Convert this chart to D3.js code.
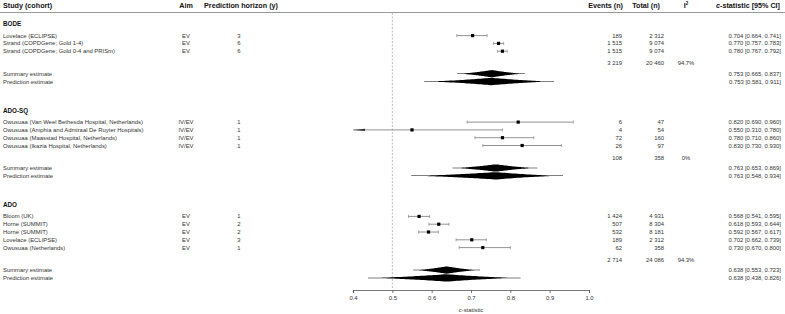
<!DOCTYPE html>
<html>
<head>
<meta charset="utf-8">
<script src="https://cdn.jsdelivr.net/npm/d3@7"></script>
<style>
  body { margin: 0; background: #fff; }
  svg { display: block; font-family: "Liberation Sans", Arial, sans-serif; }
</style>
</head>
<body>
<div id="chart"></div>
<script>
// Cohort groups
var groupNames = ["BODE", "ADO-SQ", "ADO"];
var groupEvents = [3219, 108, 2714];
var groupTotals = [20460, 358, 24086];
var groupI2 = ["94.7%", "0%", "94.3%"];
var summaryEst = [0.753, 0.763, 0.638];
var summaryLo = [0.665, 0.653, 0.553];
var summaryHi = [0.837, 0.869, 0.723];
var predLo = [0.581, 0.548, 0.438];
var predHi = [0.911, 0.934, 0.826];

// Individual studies
var studyGroup = [0, 0, 0, 1, 1, 1, 1, 2, 2, 2, 2, 2];
var studyNames = [
    "Lovelace (ECLIPSE)",
    "Strand (COPDGene; Gold 1-4)",
    "Strand (COPDGene; Gold 0-4 and PRISm)",
    "Owusuaa (Van Weel Bethesda Hospital, Netherlands)",
    "Owusuaa (Amphia and Admiraal De Ruyter Hospitals)",
    "Owusuaa (Maasstad Hospital, Netherlands)",
    "Owusuaa (Ikazia Hospital, Netherlands)",
    "Bloom (UK)",
    "Horne (SUMMIT)",
    "Horne (SUMMIT)",
    "Lovelace (ECLIPSE)",
    "Owusuaa (Netherlands)"
];
var studyAim = ["EV", "EV", "EV", "IV/EV", "IV/EV", "IV/EV", "IV/EV", "EV", "EV", "EV", "EV", "EV"];
var studyHorizon = [3, 6, 6, 1, 1, 1, 1, 1, 2, 2, 3, 1];
var studyEvents = [189, 1515, 1515, 6, 4, 72, 26, 1424, 507, 532, 189, 62];
var studyTotal = [2312, 9074, 9074, 47, 54, 160, 97, 4931, 8304, 8181, 2312, 358];
var studyEst = [0.704, 0.770, 0.780, 0.820, 0.550, 0.780, 0.830, 0.568, 0.618, 0.592, 0.702, 0.730];
var studyLo = [0.664, 0.757, 0.767, 0.690, 0.310, 0.710, 0.730, 0.541, 0.593, 0.567, 0.662, 0.670];
var studyHi = [0.741, 0.783, 0.792, 0.960, 0.780, 0.860, 0.930, 0.595, 0.644, 0.617, 0.739, 0.800];

var axisTicks = [0.4, 0.5, 0.6, 0.7, 0.8, 0.9, 1.0];
var refLine = 0.5;

var width = 785, height = 314;
var fs = 5.9, hfs = 7.2;
var textColor = "#333";

var svg = d3.select("#chart").append("svg")
    .attr("width", width)
    .attr("height", height);

svg.append("rect").attr("width", width).attr("height", height).attr("fill", "#fff");

var x = d3.scaleLinear().domain([axisTicks[0], axisTicks[axisTicks.length - 1]]).range([353, 589]);

var loc = d3.formatLocale({decimal: ".", thousands: " ", grouping: [3], currency: ["", ""]});
var fmtN = loc.format(",");
var fmt3 = d3.format(".3f");

// column positions
var colStudy = 3, colAim = 186, colHor = 239, colEvents = 622, colTotal = 664, colI2 = 686, colCI = 781;

// header
var header = svg.append("g").attr("font-weight", "bold").attr("font-size", hfs).attr("fill", "#111");
function headText(xp, anchor, txt) {
    return header.append("text").attr("x", xp).attr("y", 5).attr("dy", "0.35em")
        .attr("text-anchor", anchor).text(txt);
}
headText(colStudy, "start", "Study (cohort)");
headText(colAim, "middle", "Aim");
headText(241, "middle", "Prediction horizon (y)");
headText(colEvents + 1, "end", "Events (n)");
headText(colTotal - 4, "end", "Total (n)");
var i2h = headText(colI2, "middle", "I");
i2h.append("tspan").attr("dy", -2.5).attr("font-size", 4.5).text("2");
var cih = headText(colCI - 1, "end", "");
cih.append("tspan").attr("font-style", "italic").text("c");
cih.append("tspan").text("-statistic [95% CI]");

svg.append("line")
    .attr("x1", 0).attr("x2", width).attr("y1", 12.5).attr("y2", 12.5)
    .attr("stroke", "#9a9a9a").attr("stroke-width", 1);

// reference line
svg.append("line")
    .attr("x1", x(refLine)).attr("x2", x(refLine)).attr("y1", 13).attr("y2", 289)
    .attr("stroke", "#aaa").attr("stroke-width", 0.8).attr("stroke-dasharray", "2,1.5");

// concave diamond for summary / prediction marks
function spindle(est, lo, hi, yc, h) {
    var n = 60, top = [], bot = [];
    for (var i = 0; i <= n; i++) {
        var v = lo + (hi - lo) * i / n;
        var t = v < est ? (est - v) / (est - lo) : (v - est) / (hi - est);
        var f = Math.max(Math.pow(1 - t, 1.5), 0.07);
        top.push([x(v), yc - h * f]);
        bot.push([x(v), yc + h * f]);
    }
    var pts = top.concat(bot.reverse());
    return d3.line()(pts) + "Z";
}

var body = svg.append("g").attr("font-size", fs).attr("fill", textColor);
function cell(xp, yp, anchor, txt) {
    return body.append("text").attr("x", xp).attr("y", yp).attr("dy", "0.35em")
        .attr("text-anchor", anchor).text(txt);
}

var rowStep = 7.8;
var yLabel = 24;
var capH = 1.6;
var lineColor = "#777";

groupNames.forEach(function(g, gi) {
    body.append("text").attr("x", colStudy).attr("y", yLabel).attr("dy", "0.35em")
        .attr("font-weight", "bold").attr("font-size", 6.3).attr("fill", "#111").text(g);

    var idx = d3.range(studyNames.length).filter(function(i) { return studyGroup[i] === gi; });
    var y0 = yLabel + 11.6;
    idx.forEach(function(i, k) {
        var yy = y0 + k * rowStep;
        cell(colStudy, yy, "start", studyNames[i]);
        cell(colAim, yy, "middle", studyAim[i]);
        cell(colHor, yy, "middle", studyHorizon[i]);
        cell(colEvents, yy, "end", fmtN(studyEvents[i]));
        cell(colTotal, yy, "end", fmtN(studyTotal[i]));
        cell(colCI, yy, "end", fmt3(studyEst[i]) + " [" + fmt3(studyLo[i]) + ", " + fmt3(studyHi[i]) + "]");

        var dmin = x.domain()[0];
        var clipped = studyLo[i] < dmin;
        var xl = x(Math.max(studyLo[i], dmin)), xh = x(studyHi[i]);
        svg.append("line").attr("x1", xl).attr("x2", xh).attr("y1", yy).attr("y2", yy)
            .attr("stroke", lineColor).attr("stroke-width", 0.8);
        if (clipped) {
            svg.append("path")
                .attr("d", d3.line()([[xl, yy], [xl + 12, yy - 1.1], [xl + 12, yy + 1.1]]) + "Z")
                .attr("fill", "#333");
        } else {
            svg.append("line").attr("x1", xl).attr("x2", xl).attr("y1", yy - capH).attr("y2", yy + capH)
                .attr("stroke", lineColor).attr("stroke-width", 0.6);
        }
        svg.append("line").attr("x1", xh).attr("x2", xh).attr("y1", yy - capH).attr("y2", yy + capH)
            .attr("stroke", lineColor).attr("stroke-width", 0.6);
        svg.append("rect").attr("x", x(studyEst[i]) - 1.6).attr("y", yy - 1.6)
            .attr("width", 3.2).attr("height", 3.2).attr("fill", "#000");
    });

    var yLast = y0 + (idx.length - 1) * rowStep;
    var yTot = yLast + 12;
    cell(colEvents, yTot, "end", fmtN(groupEvents[gi]));
    cell(colTotal, yTot, "end", fmtN(groupTotals[gi]));
    cell(colI2, yTot, "middle", groupI2[gi]);

    var ySum = yLast + 22.5;
    var yPred = ySum + 7.8;
    cell(colStudy, ySum, "start", "Summary estimate");
    cell(colStudy, yPred, "start", "Prediction estimate");
    cell(colCI, ySum, "end", fmt3(summaryEst[gi]) + " [" + fmt3(summaryLo[gi]) + ", " + fmt3(summaryHi[gi]) + "]");
    cell(colCI, yPred, "end", fmt3(summaryEst[gi]) + " [" + fmt3(predLo[gi]) + ", " + fmt3(predHi[gi]) + "]");

    svg.append("path").attr("d", spindle(summaryEst[gi], summaryLo[gi], summaryHi[gi], ySum, 3.7))
        .attr("fill", "#000");
    svg.append("path").attr("d", spindle(summaryEst[gi], predLo[gi], predHi[gi], yPred, 3.7))
        .attr("fill", "#000");

    yLabel = yPred + 29;
});

// x axis
var axisG = svg.append("g")
    .attr("transform", "translate(0,290)")
    .call(d3.axisBottom(x).tickValues(axisTicks).tickFormat(d3.format(".1f")).tickSize(3).tickPadding(3));
axisG.select(".domain").attr("stroke", "#555").attr("stroke-width", 0.8);
axisG.selectAll(".tick line").attr("stroke", "#555").attr("stroke-width", 0.8);
axisG.selectAll(".tick text").attr("font-size", fs).attr("fill", textColor)
    .attr("font-family", "Liberation Sans, Arial, sans-serif");

var xl = svg.append("text").attr("x", x(0.7)).attr("y", 310).attr("dy", "0.35em")
    .attr("text-anchor", "middle").attr("font-size", fs).attr("fill", textColor);
xl.append("tspan").attr("font-style", "italic").text("c");
xl.append("tspan").text("-statistic");
</script>
</body>
</html>
